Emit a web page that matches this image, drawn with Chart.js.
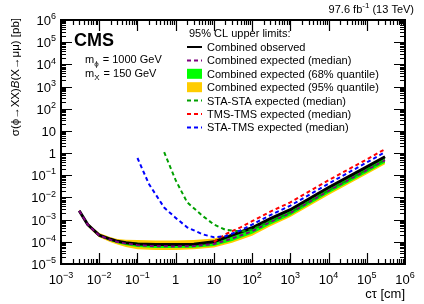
<!DOCTYPE html>
<html>
<head>
<meta charset="utf-8">
<script src="https://cdn.jsdelivr.net/npm/chart.js@4.4.0/dist/chart.umd.min.js"></script>
<style>
  html, body { margin: 0; padding: 0; background: #fff; }
  #wrap { width: 424px; height: 304px; }
</style>
</head>
<body>
<div id="wrap"><canvas id="c" width="424" height="304"></canvas></div>
<script>
// c*tau grid [cm] for combined results
const ctau = [0.003, 0.005, 0.007, 0.01, 0.02, 0.03, 0.05, 0.1, 0.3, 1, 3, 10, 30, 100, 300, 1000, 1e4, 1e5, 3e5];
const observed = [2.5e-3, 6e-4, 3.5e-4, 2e-4, 1.3e-4, 1.05e-4, 9e-5, 8e-5, 7.5e-5, 7.5e-5, 7.8e-5, 1e-4, 2e-4, 4.3e-4, 1.1e-3, 2.8e-3, 2.8e-2, 0.24, 0.68];
const expMedian = [2.5e-3, 6e-4, 3.4e-4, 1.95e-4, 1.22e-4, 9.8e-5, 8.3e-5, 7e-5, 6.3e-5, 6.2e-5, 6.4e-5, 8e-5, 1.4e-4, 3e-4, 7.8e-4, 2e-3, 2e-2, 0.17, 0.48];
const exp68Up = [2.7e-3, 6.6e-4, 3.8e-4, 2.2e-4, 1.4e-4, 1.15e-4, 1e-4, 9e-5, 8.5e-5, 8.5e-5, 8.8e-5, 1.1e-4, 1.9e-4, 4e-4, 1e-3, 2.6e-3, 2.6e-2, 0.22, 0.62];
const exp68Dn = [2.3e-3, 5.5e-4, 3.1e-4, 1.8e-4, 1.1e-4, 8.6e-5, 7e-5, 5.8e-5, 5.3e-5, 5.2e-5, 5.4e-5, 6.5e-5, 1.1e-4, 2.3e-4, 6e-4, 1.55e-3, 1.55e-2, 0.13, 0.37];
const exp95Up = [2.9e-3, 7.2e-4, 4.2e-4, 2.5e-4, 1.6e-4, 1.35e-4, 1.25e-4, 1.2e-4, 1.15e-4, 1.15e-4, 1.2e-4, 1.4e-4, 2.3e-4, 4.8e-4, 1.2e-3, 3.1e-3, 3.1e-2, 0.26, 0.72];
const exp95Dn = [2.1e-3, 5e-4, 2.8e-4, 1.6e-4, 9.5e-5, 7.5e-5, 5.8e-5, 4.6e-5, 4.3e-5, 4.3e-5, 4.6e-5, 5.5e-5, 9e-5, 1.9e-4, 5e-4, 1.3e-3, 1.3e-2, 0.11, 0.31];

const ctauStaSta = [0.5, 1, 2, 5, 10, 20, 50, 100, 300, 1000, 1e4, 1e5, 3e5];
const staSta = [1.1, 0.06, 6e-3, 1.5e-3, 6e-4, 3.5e-4, 2.9e-4, 3.6e-4, 8.5e-4, 2.1e-3, 2.1e-2, 0.18, 0.5];
const ctauStaTms = [0.1, 0.2, 0.5, 1, 2, 5, 10, 20, 50, 100, 300, 1000, 1e4, 1e5, 3e5];
const staTms = [0.6, 0.04, 3.5e-3, 1.2e-3, 4.5e-4, 2.2e-4, 1.6e-4, 1.8e-4, 3.3e-4, 6e-4, 1.6e-3, 4.3e-3, 4.2e-2, 0.38, 1.1];
const ctauTmsTms = [10, 20, 50, 100, 300, 1000, 1e4, 1e5, 3e5];
const tmsTms = [1e-4, 2.2e-4, 4.5e-4, 8.5e-4, 2.3e-3, 6e-3, 6e-2, 0.52, 1.5];

const xTickExp = [-3, -2, -1, 0, 1, 2, 3, 4, 5, 6];
const yTickExp = [-5, -4, -3, -2, -1, 0, 1, 2, 3, 4, 5, 6];

const legendTitle = "95% CL upper limits:";
const legendItems = [
  ["line", "#000000", false, "Combined observed"],
  ["line", "#800080", true, "Combined expected (median)"],
  ["box", "#00ff00", false, "Combined expected (68% quantile)"],
  ["box", "#ffcc00", false, "Combined expected (95% quantile)"],
  ["line", "#00a000", true, "STA-STA expected (median)"],
  ["line", "#ff0000", true, "TMS-TMS expected (median)"],
  ["line", "#0000ff", true, "STA-TMS expected (median)"]
];

const pts = (xs, ys) => xs.map((x, i) => ({ x, y: ys[i] }));
const DASH = [4, 3];
const FONT = "'Liberation Sans', Arial, sans-serif";

function lineSet(label, xs, ys, color, dashed, width) {
  return {
    label, data: pts(xs, ys), borderColor: color, borderWidth: width,
    borderDash: dashed ? DASH : [], pointRadius: 0, fill: false, tension: 0, order: 0
  };
}
function bandSet(label, ys, color, fill, order) {
  return {
    label, data: pts(ctau, ys), borderWidth: 0, borderColor: color,
    backgroundColor: color, pointRadius: 0, fill, tension: 0, order
  };
}

// superscript text helper: draws base + exponent
function supText(ctx, base, sup, x, y, align, size) {
  ctx.font = size + "px " + FONT;
  const wb = ctx.measureText(base).width;
  ctx.font = Math.round(size * 0.7) + "px " + FONT;
  const ws = sup ? ctx.measureText(sup).width : 0;
  const w = wb + ws;
  let x0 = x;
  if (align === "center") x0 = x - w / 2;
  if (align === "right") x0 = x - w;
  ctx.textAlign = "left";
  ctx.textBaseline = "alphabetic";
  ctx.font = size + "px " + FONT;
  ctx.fillText(base, x0, y);
  if (sup) {
    ctx.font = Math.round(size * 0.7) + "px " + FONT;
    ctx.fillText(sup, x0 + wb, y - size * 0.45);
  }
}
function expLabel(e) {
  if (e === 0) return ["1", ""];
  if (e === 1) return ["10", ""];
  return ["10", String(e).replace("-", "\u2212")];
}

const rootFrame = {
  id: "rootFrame",
  afterDraw(chart) {
    const { ctx, chartArea: a } = chart;
    const xs = chart.scales.x, ys = chart.scales.y;
    ctx.save();
    ctx.strokeStyle = "#000";
    ctx.fillStyle = "#000";
    ctx.lineWidth = 1.2;
    // ticks on all four sides
    for (let e = -3; e < 6; e++) {
      for (let m = 1; m <= 9; m++) {
        const px = Math.round(xs.getPixelForValue(m * Math.pow(10, e))) + 0.5;
        const len = m === 1 ? 11 : 5;
        ctx.beginPath();
        ctx.moveTo(px, a.bottom); ctx.lineTo(px, a.bottom - len);
        ctx.moveTo(px, a.top); ctx.lineTo(px, a.top + len);
        ctx.stroke();
      }
    }
    for (let e = -5; e < 6; e++) {
      for (let m = 1; m <= 9; m++) {
        const py = Math.round(ys.getPixelForValue(m * Math.pow(10, e))) + 0.5;
        const len = m === 1 ? 11 : 5;
        ctx.beginPath();
        ctx.moveTo(a.left, py); ctx.lineTo(a.left + len, py);
        ctx.moveTo(a.right, py); ctx.lineTo(a.right - len, py);
        ctx.stroke();
      }
    }
    ctx.lineWidth = 2;
    ctx.strokeRect(a.left, a.top, a.right - a.left, a.bottom - a.top);

    // tick labels
    xTickExp.forEach(e => {
      const [b, s] = expLabel(e);
      supText(ctx, b, s, xs.getPixelForValue(Math.pow(10, e)), 284, "center", 13);
    });
    yTickExp.forEach(e => {
      const [b, s] = expLabel(e);
      supText(ctx, b, s, 56, ys.getPixelForValue(Math.pow(10, e)) + 5, "right", 13);
    });

    // axis titles
    ctx.font = "13px " + FONT;
    ctx.textAlign = "right";
    ctx.fillText("c\u03c4 [cm]", a.right, 298);
    ctx.save();
    ctx.translate(19, a.top - 2);
    ctx.rotate(-Math.PI / 2);
    ctx.textAlign = "left";
    const parts = [["\u03c3(\u03d5\u2192XX)", "11.5px "], ["B", "italic 11.5px "], ["(X\u2192\u03bc\u03bc) [pb]", "11.5px "]];
    let w = 0;
    parts.forEach(p => { ctx.font = p[1] + FONT; w += ctx.measureText(p[0]).width; });
    let x = -w;
    parts.forEach(p => { ctx.font = p[1] + FONT; ctx.fillText(p[0], x, 0); x += ctx.measureText(p[0]).width; });
    ctx.restore();

    // header
    ctx.font = "11px " + FONT;
    ctx.textAlign = "right";
    const tail = " (13 TeV)";
    const tw = ctx.measureText(tail).width;
    ctx.fillText(tail, 414, 13);
    ctx.font = "8px " + FONT;
    const sw = ctx.measureText("-1").width;
    ctx.fillText("-1", 414 - tw, 8);
    ctx.font = "11px " + FONT;
    ctx.fillText("97.6 fb", 414 - tw - sw, 13);

    // CMS label
    ctx.textAlign = "left";
    ctx.font = "bold 18px " + FONT;
    ctx.fillText("CMS", 74, 46);
    const mLine = (sub, rest, y) => {
      ctx.font = "11px " + FONT;
      ctx.fillText("m", 85, y);
      const mw = ctx.measureText("m").width;
      ctx.font = "8px " + FONT;
      ctx.fillText(sub, 85 + mw, y + 3);
      const subw = ctx.measureText(sub).width;
      ctx.font = "11px " + FONT;
      ctx.fillText(rest, 85 + mw + subw + 1, y);
    };
    mLine("\u03d5", " = 1000 GeV", 63);
    mLine("X", " = 150 GeV", 77);

    // legend
    ctx.font = "11px " + FONT;
    ctx.fillText(legendTitle, 189, 37);
    legendItems.forEach((it, i) => {
      const yc = 47 + i * 13.4;
      if (it[0] === "box") {
        ctx.fillStyle = it[1];
        ctx.fillRect(187, yc - 5, 15, 10);
      } else {
        ctx.strokeStyle = it[1];
        ctx.lineWidth = 2;
        ctx.setLineDash(it[2] ? DASH : []);
        ctx.beginPath(); ctx.moveTo(187, yc); ctx.lineTo(202, yc); ctx.stroke();
        ctx.setLineDash([]);
      }
      ctx.fillStyle = "#000";
      ctx.font = "11px " + FONT;
      ctx.fillText(it[3], 207, yc + 4);
    });
    ctx.restore();
  }
};

new Chart(document.getElementById("c"), {
  type: "line",
  data: {
    datasets: [
      lineSet("STA-TMS expected (median)", ctauStaTms, staTms, "#0000ff", true, 2),
      lineSet("TMS-TMS expected (median)", ctauTmsTms, tmsTms, "#ff0000", true, 2),
      lineSet("STA-STA expected (median)", ctauStaSta, staSta, "#00a000", true, 2),
      lineSet("Combined expected (median)", ctau, expMedian, "#800080", true, 2),
      lineSet("Combined observed", ctau, observed, "#000000", false, 3),
      bandSet("68% up", exp68Up, "#00ff00", "+1", 1),
      bandSet("68% down", exp68Dn, "#00ff00", false, 1),
      bandSet("95% up", exp95Up, "#ffcc00", "+1", 2),
      bandSet("95% down", exp95Dn, "#ffcc00", false, 2)
    ]
  },
  options: {
    responsive: false,
    animation: false,
    layout: { padding: { left: 61, right: 19, top: 20, bottom: 40 } },
    plugins: { legend: { display: false }, tooltip: { enabled: false } },
    scales: {
      x: { type: "logarithmic", min: 1e-3, max: 1e6, display: false },
      y: { type: "logarithmic", min: 1e-5, max: 1e6, display: false }
    }
  },
  plugins: [rootFrame]
});
</script>
</body>
</html>
